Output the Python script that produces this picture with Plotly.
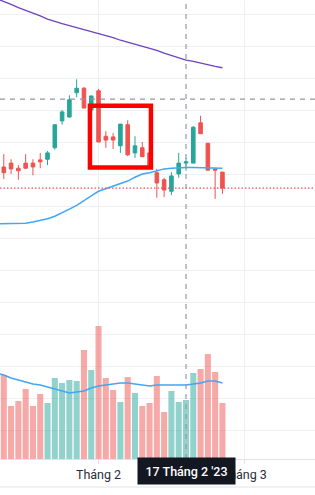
import plotly.graph_objects as go

# ---- data ----
idx = list(range(31))
opens  = [20.11, 20.17, 20.09, 20.17, 20.17, 20.22, 20.23, 20.41, 20.83, 20.89, 21.27,
          21.34, 21.00, 21.30, 20.59, 20.58, 20.44, 20.77, 20.33, 20.41, 20.33,
          20.02, 19.91, 19.73, 20.00, 20.17, 20.17, 20.80, 20.48, 20.08, 20.03]
highs  = [20.31, 20.23, 20.14, 20.31, 20.23, 20.33, 20.36, 20.77, 21.00, 21.23, 21.48,
          21.36, 21.22, 21.33, 20.67, 20.64, 20.78, 20.84, 20.59, 20.50, 20.36,
          20.08, 19.94, 20.03, 20.33, 20.25, 20.75, 20.91, 20.48, 20.08, 20.03]
lows   = [19.92, 20.00, 19.91, 20.08, 19.98, 20.09, 20.14, 20.38, 20.77, 20.88, 21.20,
          21.03, 20.75, 20.50, 20.41, 20.39, 20.33, 20.28, 20.25, 20.27, 20.09,
          19.63, 19.64, 19.67, 19.94, 20.05, 20.17, 20.63, 20.06, 19.61, 19.69]
closes = [20.02, 20.08, 20.05, 20.09, 20.11, 20.19, 20.33, 20.77, 20.97, 21.16, 21.34,
          21.03, 21.22, 20.50, 20.53, 20.53, 20.78, 20.30, 20.44, 20.27, 20.11,
          19.86, 19.75, 19.97, 20.17, 20.19, 20.73, 20.63, 20.06, 20.06, 19.78]
volumes = [4.2, 2.65, 2.9, 3.5, 2.65, 3.25, 2.8, 4.05, 3.8, 3.95, 3.9,
           5.45, 4.45, 6.65, 4.05, 3.45, 2.85, 4.1, 3.3, 2.65, 2.8,
           4.15, 2.35, 3.4, 2.85, 2.95, 4.3, 4.5, 5.25, 4.35, 2.8]

ma_x = list(range(-1, 31))
ma_long = [22.74, 22.70, 22.65, 22.60, 22.56, 22.51, 22.47, 22.42, 22.38, 22.35, 22.32,
           22.29, 22.25, 22.22, 22.19, 22.16, 22.13, 22.09, 22.06, 22.03, 22.00,
           21.96, 21.93, 21.89, 21.85, 21.82, 21.78, 21.76, 21.73, 21.71, 21.68, 21.66]
ma_mid = [19.22, 19.22, 19.22, 19.23, 19.23, 19.25, 19.27, 19.30, 19.34, 19.39, 19.45,
          19.51, 19.59, 19.66, 19.73, 19.77, 19.82, 19.86, 19.89, 19.95, 20.00,
          20.02, 20.05, 20.08, 20.09, 20.10, 20.10, 20.10, 20.10, 20.10, 20.09, 20.09]
vol_ma = [4.3, 4.2, 4.05, 3.95, 3.85, 3.75, 3.7, 3.6, 3.5, 3.4, 3.3,
          3.35, 3.4, 3.55, 3.65, 3.7, 3.75, 3.8, 3.8, 3.75, 3.7,
          3.65, 3.7, 3.7, 3.7, 3.7, 3.7, 3.75, 3.8, 3.9, 3.9, 3.8]

tick_pos = [13, 33]
tick_labels = ["Tháng 2", "Tháng 3"]
cross_idx = 25
cross_price = 21.17
cross_label = "17 Tháng 2 '23"
box_x = [11.82, 20.19]
box_y = [20.10, 21.067]

UP = "#26A69A"
DOWN = "#EF5350"
vol_colors = ["rgba(38,166,154,0.5)" if c >= o else "rgba(239,83,80,0.5)"
              for o, c in zip(opens, closes)]

fig = go.Figure()
fig.add_trace(go.Bar(x=idx, y=volumes, yaxis="y2", marker_color=vol_colors,
                     marker_line_width=0, width=0.83, showlegend=False))
fig.add_trace(go.Scatter(x=ma_x, y=vol_ma, yaxis="y2", mode="lines",
                         line=dict(color="#42A5F5", width=1.5), showlegend=False))
fig.add_trace(go.Scatter(x=ma_x, y=ma_long, mode="lines",
                         line=dict(color="#6F42C1", width=1.3), showlegend=False))
fig.add_trace(go.Scatter(x=ma_x, y=ma_mid, mode="lines",
                         line=dict(color="#42A5F5", width=1.5), showlegend=False))
fig.add_trace(go.Candlestick(x=idx, open=opens, high=highs, low=lows, close=closes,
                             increasing=dict(line=dict(color=UP, width=1), fillcolor=UP),
                             decreasing=dict(line=dict(color=DOWN, width=1), fillcolor=DOWN),
                             showlegend=False))

grid = "#EEEFF2"
shapes = [
    # last price dotted line
    dict(type="line", xref="paper", x0=0, x1=1, yref="y", y0=closes[-1], y1=closes[-1],
         line=dict(color="#EF4F5A", width=1.2, dash="1.5px,2px"), layer="above"),
    # crosshair
    dict(type="line", xref="x", x0=cross_idx, x1=cross_idx, yref="paper", y0=0, y1=1,
         line=dict(color="#9598A1", width=1.2, dash="5px,5px"), layer="above"),
    dict(type="line", xref="paper", x0=0, x1=1, yref="y", y0=cross_price, y1=cross_price,
         line=dict(color="#9598A1", width=1.2, dash="5px,5px"), layer="above"),
    # drawn rectangle
    dict(type="rect", xref="x", yref="y", x0=box_x[0], x1=box_x[1], y0=box_y[0], y1=box_y[1],
         line=dict(color="#FF0000", width=4.5), fillcolor="rgba(0,0,0,0)", layer="above"),
    # bottom border
    dict(type="line", xref="paper", x0=0, x1=1, yref="paper", y0=-0.061, y1=-0.061,
         line=dict(color="#E0E3EB", width=1)),
]

fig.update_layout(
    width=315, height=495,
    margin=dict(l=0, r=0, t=0, b=36),
    paper_bgcolor="white", plot_bgcolor="white",
    font=dict(family="Roboto", size=12, color="#131722"),
    showlegend=False,
    hovermode=False,
    xaxis=dict(range=[-0.52, 42.7], tickmode="array", tickvals=tick_pos, ticktext=tick_labels,
               showgrid=True, gridcolor=grid, gridwidth=1, zeroline=False,
               showline=True, linecolor="#E0E3EB", ticks="outside", ticklen=4,
               tickcolor="#E0E3EB", rangeslider=dict(visible=False),
               tickfont=dict(size=12.5, color="#2A2E39"), fixedrange=True),
    yaxis=dict(range=[15.547, 22.71875], tick0=16, dtick=0.5, showgrid=True,
               gridcolor=grid, gridwidth=1, zeroline=False, showticklabels=False,
               fixedrange=True),
    yaxis2=dict(range=[0, 22.95], overlaying="y", showgrid=False, zeroline=False,
                showticklabels=False, fixedrange=True),
    shapes=shapes,
    annotations=[dict(x=cross_idx, xref="x", y=-0.026, yref="paper", text=cross_label,
                      showarrow=False, bgcolor="#131722", width=95, height=24,
                      font=dict(color="white", size=12.5, family="Roboto", weight=500),
                      xanchor="center", yanchor="middle")],
)

fig.write_html("out.html")
